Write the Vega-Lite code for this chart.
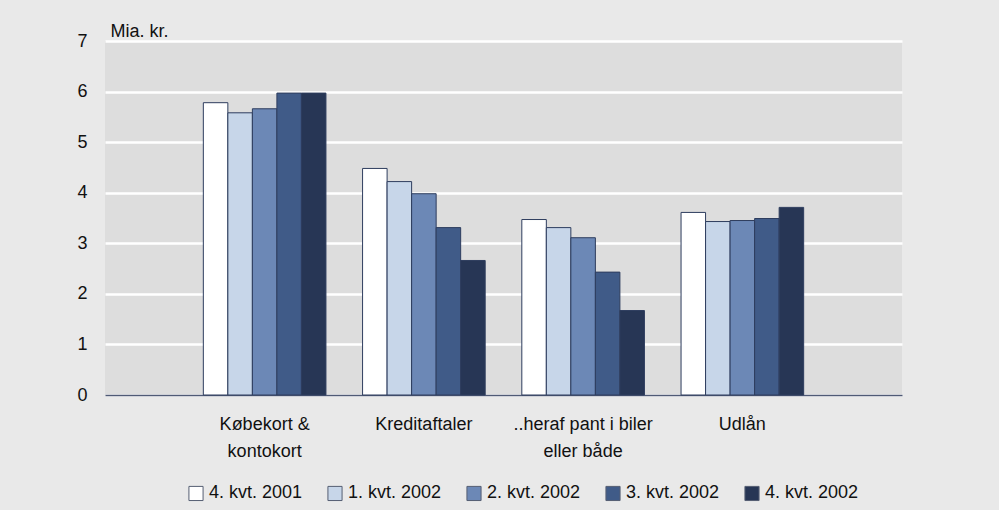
{
  "$schema": "https://vega.github.io/schema/vega-lite/v6.json",
  "width": 797,
  "height": 354,
  "autosize": "none",
  "padding": {"left": 105, "top": 41, "right": 97, "bottom": 115},
  "background": "#e9e9e9",
  "config": {
    "font": "Liberation Sans",
    "view": {"fill": "#dddddd", "stroke": null}
  },
  "data": {
    "values": [
      {"kategori": "Købekort &|kontokort", "periode": "4. kvt. 2001", "v": 5.78},
      {"kategori": "Købekort &|kontokort", "periode": "1. kvt. 2002", "v": 5.58},
      {"kategori": "Købekort &|kontokort", "periode": "2. kvt. 2002", "v": 5.66},
      {"kategori": "Købekort &|kontokort", "periode": "3. kvt. 2002", "v": 5.97},
      {"kategori": "Købekort &|kontokort", "periode": "4. kvt. 2002", "v": 5.97},
      {"kategori": "Kreditaftaler", "periode": "4. kvt. 2001", "v": 4.48},
      {"kategori": "Kreditaftaler", "periode": "1. kvt. 2002", "v": 4.22},
      {"kategori": "Kreditaftaler", "periode": "2. kvt. 2002", "v": 3.98},
      {"kategori": "Kreditaftaler", "periode": "3. kvt. 2002", "v": 3.31},
      {"kategori": "Kreditaftaler", "periode": "4. kvt. 2002", "v": 2.66},
      {"kategori": "..heraf pant i biler|eller både", "periode": "4. kvt. 2001", "v": 3.47},
      {"kategori": "..heraf pant i biler|eller både", "periode": "1. kvt. 2002", "v": 3.31},
      {"kategori": "..heraf pant i biler|eller både", "periode": "2. kvt. 2002", "v": 3.11},
      {"kategori": "..heraf pant i biler|eller både", "periode": "3. kvt. 2002", "v": 2.43},
      {"kategori": "..heraf pant i biler|eller både", "periode": "4. kvt. 2002", "v": 1.67},
      {"kategori": "Udlån", "periode": "4. kvt. 2001", "v": 3.61},
      {"kategori": "Udlån", "periode": "1. kvt. 2002", "v": 3.43},
      {"kategori": "Udlån", "periode": "2. kvt. 2002", "v": 3.45},
      {"kategori": "Udlån", "periode": "3. kvt. 2002", "v": 3.49},
      {"kategori": "Udlån", "periode": "4. kvt. 2002", "v": 3.71}
    ]
  },
  "mark": {"type": "bar", "stroke": "#2e3d5e", "strokeWidth": 1},
  "encoding": {
    "x": {
      "field": "kategori",
      "type": "nominal",
      "sort": null,
      "scale": {"paddingInner": 0.23, "paddingOuter": 0.6175},
      "axis": {
        "title": null,
        "labelAngle": 0,
        "labelExpr": "split(datum.value, '|')",
        "labelFontSize": 18,
        "labelColor": "#111111",
        "labelLineHeight": 27,
        "labelPadding": 20,
        "ticks": false,
        "domainColor": "#4f5a75",
        "domainWidth": 1.5,
        "labelLimit": 300
      }
    },
    "xOffset": {
      "field": "periode",
      "type": "nominal",
      "sort": null,
      "scale": {"paddingInner": 0, "paddingOuter": 0}
    },
    "y": {
      "field": "v",
      "type": "quantitative",
      "scale": {"domain": [0, 7], "nice": false},
      "axis": {
        "title": "Mia. kr.",
        "titleAngle": 0,
        "titleAlign": "left",
        "titleBaseline": "alphabetic",
        "titleX": 5,
        "titleY": -5,
        "titleFontSize": 18,
        "titleFontWeight": "normal",
        "titleColor": "#111111",
        "values": [0, 1, 2, 3, 4, 5, 6, 7],
        "labelOverlap": false,
        "labelFontSize": 18,
        "labelColor": "#111111",
        "labelPadding": 18,
        "ticks": false,
        "domain": false,
        "grid": true,
        "gridColor": "#ffffff",
        "gridWidth": 2.5,
        "gridOpacity": 1
      }
    },
    "fill": {
      "field": "periode",
      "type": "nominal",
      "sort": null,
      "scale": {
        "domain": ["4. kvt. 2001", "1. kvt. 2002", "2. kvt. 2002", "3. kvt. 2002", "4. kvt. 2002"],
        "range": ["#ffffff", "#c7d6e9", "#6c88b6", "#405b88", "#273655"]
      },
      "legend": {
        "title": null,
        "orient": "none",
        "direction": "horizontal",
        "legendX": 82,
        "legendY": 443,
        "symbolType": "square",
        "symbolSize": 200,
        "symbolStrokeColor": "#555e73",
        "symbolStrokeWidth": 1,
        "symbolOpacity": 1,
        "labelFontSize": 18,
        "labelColor": "#111111",
        "labelOffset": 4,
        "columnPadding": 22,
        "labelLimit": 200
      }
    }
  }
}
